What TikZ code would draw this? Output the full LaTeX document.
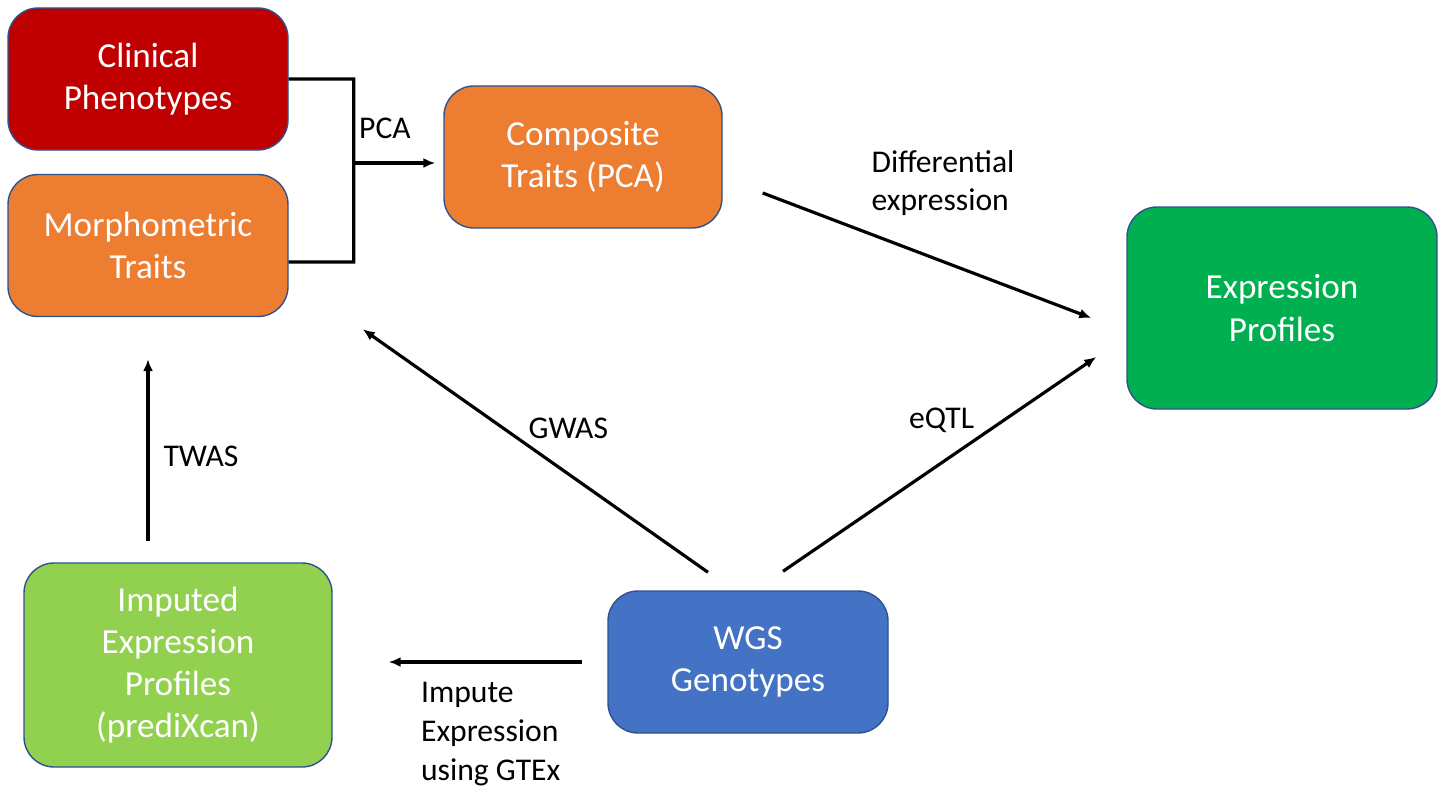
\documentclass[tikz,border=0pt]{standalone}
\usepackage{fontspec}
\setmainfont{Carlito}
\definecolor{clinical red}{HTML}{C00000}
\definecolor{trait orange}{HTML}{ED7D31}
\definecolor{expression green}{HTML}{00B050}
\definecolor{imputed green}{HTML}{92D050}
\definecolor{genotype blue}{HTML}{4472C4}
\definecolor{box border}{HTML}{2F528F}
\usepackage{tikz}
\usetikzlibrary{calc,positioning,arrows.meta}
\tikzstyle{line} = [line width=1.8pt]
\tikzstyle{line>} = [line,-{Latex[length=2.4mm, width=2mm]}]
\tikzstyle{data node}=[draw=box border, line width=0.8pt, rounded corners=0.6cm, text=white, align=center, font=\fontsize{20}{24}\selectfont, minimum width=5.6cm, minimum height=2.84cm]
\tikzstyle{edge label}=[align=left, inner sep=0pt, font=\fontsize{18}{22}\selectfont]

\begin{document}
\begin{tikzpicture}
        \useasboundingbox (0,0) rectangle (28.92,-15.82);
        \node[data node,fill=genotype blue] (wgs) at (14.96,-13.24) {WGS\\Genotypes};
        \draw (wgs) ++(-11.4,-0.06) node[data node,fill=imputed green,minimum width=6.16cm,minimum height=4.08cm] (imputed) {Imputed\\Expression\\Profiles\\(prediXcan)};
        \draw (wgs) ++(10.68,7.08) node[data node,fill=expression green,minimum width=6.2cm,minimum height=4.04cm] (expression) {Expression\\Profiles};
        \draw (wgs) ++(-12,8.33) node[data node,fill=trait orange] (morpho) {Morphometric\\Traits};
        \draw (wgs) ++(-12,11.66) node[data node,fill=clinical red] (clinical) {Clinical\\Phenotypes};
        \draw (wgs) ++(-3.3,10.1) node[data node,fill=trait orange,minimum width=5.56cm] (composite) {Composite\\Traits (PCA)};
        
        \draw[line] (clinical.east) -- ++(1.3,0) -- ([xshift=1.3cm,yshift=-0.33cm]morpho.east) -- ([yshift=-0.33cm]morpho.east);
        \coordinate (pca join) at ([xshift=1.3cm,yshift=-1.68cm]clinical.east);
        \draw[line>] (pca join) -- ($(pca join -| composite.west)+(-0.16,0)$) node[midway,edge label,xshift=-0.19cm,yshift=0.7cm] {PCA};
        
        \draw[line>] ([shift={(0.8,-0.72)}]composite.east) -- ([shift={(-0.7,-0.2)}]expression.west) node[midway,edge label,anchor=west,xshift=-1.14cm,yshift=1.45cm] {Differential\\expression};
        \draw[line>] ([shift={(0.7,0.38)}]wgs.north) -- ([shift={(-0.6,-0.98)}]expression.west) node[midway,edge label,xshift=0.04cm,yshift=0.87cm] {eQTL};
        \draw[line>] ([shift={(-0.8,0.36)}]wgs.north) -- ([shift={(1.48,-0.24)}]morpho.south east) node[midway,edge label,xshift=0.66cm,yshift=0.44cm] {GWAS};
        \draw[line>] ([yshift=-4.48cm]morpho.south) -- ([yshift=-0.84cm]morpho.south) node[midway,edge label,xshift=1.06cm,yshift=-0.12cm] {TWAS};
        \draw[line>] ([xshift=-0.5cm]wgs.west) -- ($(imputed.east |- wgs.west)+(1.12,0)$) node[midway,edge label,anchor=west,xshift=-1.32cm,yshift=-1.44cm] {Impute\\Expression\\using GTEx};
        
    \end{tikzpicture}
\end{document}
